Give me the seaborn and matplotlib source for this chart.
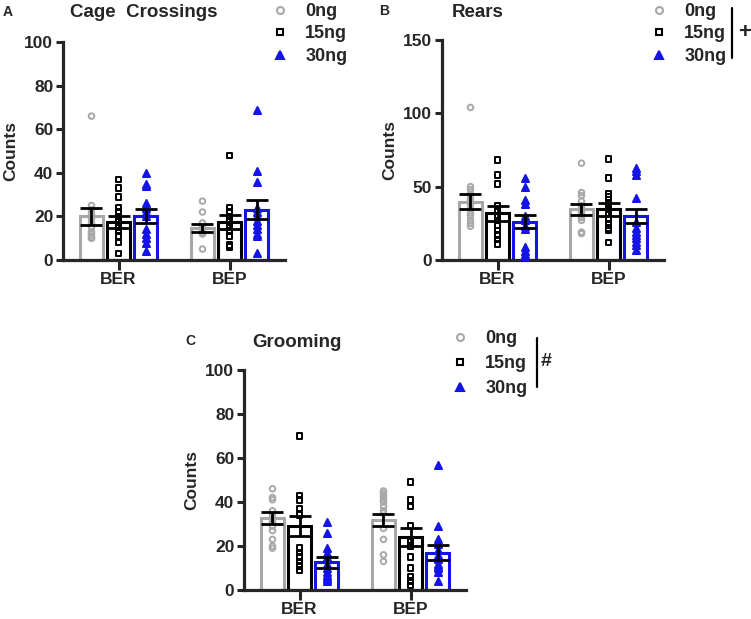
import numpy as np
import pandas as pd
import seaborn as sns
import matplotlib.pyplot as plt
from matplotlib.lines import Line2D

# groups on the x axis and the three doses
phases = ["BER", "BEP"]
doses = ["0ng", "15ng", "30ng"]

# bar heights (means) and SEM, one [BER, BEP] pair per dose
cross_mean = {"0ng": [20.0, 14.8], "15ng": [17.4, 17.3], "30ng": [20.3, 23.1]}
cross_sem = {"0ng": [3.8, 1.9], "15ng": [2.7, 3.2], "30ng": [3.2, 4.4]}
rears_mean = {"0ng": [39.8, 34.5], "15ng": [31.8, 34.5], "30ng": [26.1, 30.0]}
rears_sem = {"0ng": [5.3, 3.6], "15ng": [5.0, 4.3], "30ng": [4.4, 4.8]}
groom_mean = {"0ng": [32.8, 31.8], "15ng": [29.2, 24.2], "30ng": [12.6, 16.9]}
groom_sem = {"0ng": [2.7, 2.7], "15ng": [4.6, 4.2], "30ng": [2.4, 3.4]}

# individual animals (estimated from the dots)
cross_pts = {
    "0ng": {"BER": [66, 25, 23, 21, 19, 17, 15, 13, 12, 11, 10, 10],
            "BEP": [27, 22, 17, 15, 14, 13, 13, 12, 12, 5]},
    "15ng": {"BER": [37, 33, 29, 24, 22, 20, 18, 16, 15, 13, 11, 8, 3],
             "BEP": [48, 24, 22, 20, 18, 16, 15, 13, 11, 7, 6]},
    "30ng": {"BER": [40, 35, 34, 26, 24, 22, 20, 14, 12, 10, 8, 4],
             "BEP": [69, 41, 36, 24, 22, 20, 18, 16, 14, 12, 11, 3]},
}
rears_pts = {
    "0ng": {"BER": [104, 50, 48, 45, 42, 40, 38, 35, 32, 30, 27, 25, 23],
            "BEP": [66, 46, 44, 40, 37, 35, 33, 31, 29, 27, 19, 18]},
    "15ng": {"BER": [68, 58, 52, 37, 34, 30, 27, 24, 20, 17, 14, 11],
             "BEP": [69, 56, 45, 43, 38, 35, 31, 28, 25, 22, 20, 12]},
    "30ng": {"BER": [56, 50, 41, 38, 30, 27, 23, 21, 9, 6, 4, 2],
             "BEP": [63, 61, 58, 42, 26, 22, 19, 17, 15, 12, 10, 7]},
}
groom_pts = {
    "0ng": {"BER": [46, 42, 41, 36, 34, 32, 31, 29, 27, 23, 20, 19],
            "BEP": [45, 44, 43, 42, 41, 40, 38, 36, 35, 28, 23, 16, 13]},
    "15ng": {"BER": [70, 43, 41, 37, 34, 19, 17, 15, 13, 11, 9],
             "BEP": [49, 41, 38, 29, 22, 20, 15, 10, 6, 4, 2]},
    "30ng": {"BER": [31, 26, 19, 17, 15, 12, 10, 8, 7, 6, 5, 4],
             "BEP": [57, 29, 23, 21, 18, 16, 14, 12, 11, 10, 8, 4]},
}

colors = {"0ng": "#a8a8a8", "15ng": "#000000", "30ng": "#1414e6"}
markers = {"0ng": "o", "15ng": "s", "30ng": "^"}
faces = {"0ng": "none", "15ng": "none", "30ng": "#1414e6"}

sns.set_style("ticks")
plt.rcParams["font.family"] = ["Liberation Sans", "DejaVu Sans"]
plt.rcParams["font.weight"] = "bold"
plt.rcParams["axes.labelweight"] = "bold"

W, H = 751, 619
fig = plt.figure(figsize=(W / 100, H / 100), dpi=100)


def px_axes(left, top, right, bottom):
    return fig.add_axes([left / W, 1 - bottom / H, (right - left) / W, (bottom - top) / H])


def draw_panel(ax, means, sems, pts, ymax, ystep):
    bars = pd.DataFrame(
        [(ph, d, means[d][i]) for d in doses for i, ph in enumerate(phases)],
        columns=["phase", "dose", "mean"],
    )
    sns.barplot(data=bars, x="phase", y="mean", hue="dose", order=phases, hue_order=doses,
                palette=colors, fill=False, width=0.73, gap=0.12, linewidth=2.2,
                errorbar=None, legend=False, ax=ax)

    # dots and error bars sit on the centre of each seaborn bar
    for i, d in enumerate(doses):
        for j, ph in enumerate(phases):
            patch = ax.containers[i].patches[j]
            xc = patch.get_x() + patch.get_width() / 2
            vals = pts[d][ph]
            sns.scatterplot(x=[xc] * len(vals), y=vals, marker=markers[d], s=16 if d != "30ng" else 26,
                            color=colors[d], facecolor=faces[d], edgecolor=colors[d],
                            linewidth=1.4, zorder=3, ax=ax)
            ax.errorbar(xc, means[d][j], yerr=sems[d][j], fmt="none", ecolor="black",
                        elinewidth=2.0, capsize=8, capthick=2.0, zorder=4)

    ax.set_xlim(-0.5, 1.5)
    ax.set_ylim(0, ymax)
    ax.set_yticks(np.arange(0, ymax + 1, ystep))
    ax.set_xlabel("")
    ax.set_ylabel("Counts", fontsize=12.5, fontweight="bold", labelpad=4)
    sns.despine(ax=ax)
    for side in ["left", "bottom"]:
        ax.spines[side].set_linewidth(2.3)
    ax.tick_params(axis="y", length=5, width=2.2, labelsize=12.5, pad=2)
    ax.tick_params(axis="x", length=7, width=2.2, labelsize=12.5, pad=1.5)


def legend_at(x_marker, y_top, spacing):
    handles = [Line2D([], [], linestyle="none", marker=markers[d], markersize=5 if d != "30ng" else 6,
                      markerfacecolor=faces[d], markeredgecolor=colors[d], markeredgewidth=1.5)
               for d in doses]
    fig.legend(handles, doses, loc="upper left", bbox_to_anchor=((x_marker - 9) / W, 1 - y_top / H),
               frameon=False, borderpad=0, borderaxespad=0, handlelength=1.0, handletextpad=0.9,
               labelspacing=spacing, prop={"size": 13, "weight": "bold"})


ax_a = px_axes(63, 42, 285, 260)
ax_b = px_axes(442, 40, 664, 260)
ax_c = px_axes(244, 370, 466, 590)

draw_panel(ax_a, cross_mean, cross_sem, cross_pts, 100, 20)
draw_panel(ax_b, rears_mean, rears_sem, rears_pts, 150, 50)
draw_panel(ax_c, groom_mean, groom_sem, groom_pts, 100, 20)

# titles and panel letters
fig.text(144 / W, 1 - 12.5 / H, "Cage  Crossings", ha="center", va="center", fontsize=13.5, fontweight="bold")
fig.text(478 / W, 1 - 12.5 / H, "Rears", ha="center", va="center", fontsize=13.5, fontweight="bold")
fig.text(297 / W, 1 - 342.5 / H, "Grooming", ha="center", va="center", fontsize=13.5, fontweight="bold")
fig.text(8 / W, 1 - 12 / H, "A", ha="center", va="center", fontsize=10, fontweight="bold")
fig.text(384 / W, 1 - 11 / H, "B", ha="center", va="center", fontsize=10, fontweight="bold")
fig.text(190 / W, 1 - 341 / H, "C", ha="center", va="center", fontsize=10, fontweight="bold")

legend_at(280, 3, 0.3)
legend_at(659, 3, 0.3)
legend_at(460, 330, 0.44)

# significance brackets beside the legends
fig.add_artist(Line2D([732 / W, 732 / W], [1 - 8 / H, 1 - 58 / H], color="black", linewidth=1.6))
fig.text(745 / W, 1 - 33 / H, "+", ha="center", va="center", fontsize=16, fontweight="bold")
fig.add_artist(Line2D([537 / W, 537 / W], [1 - 338 / H, 1 - 387 / H], color="black", linewidth=1.6))
fig.text(546 / W, 1 - 362 / H, "#", ha="center", va="center", fontsize=14, fontweight="bold")

fig.savefig("out.png", dpi=100)
